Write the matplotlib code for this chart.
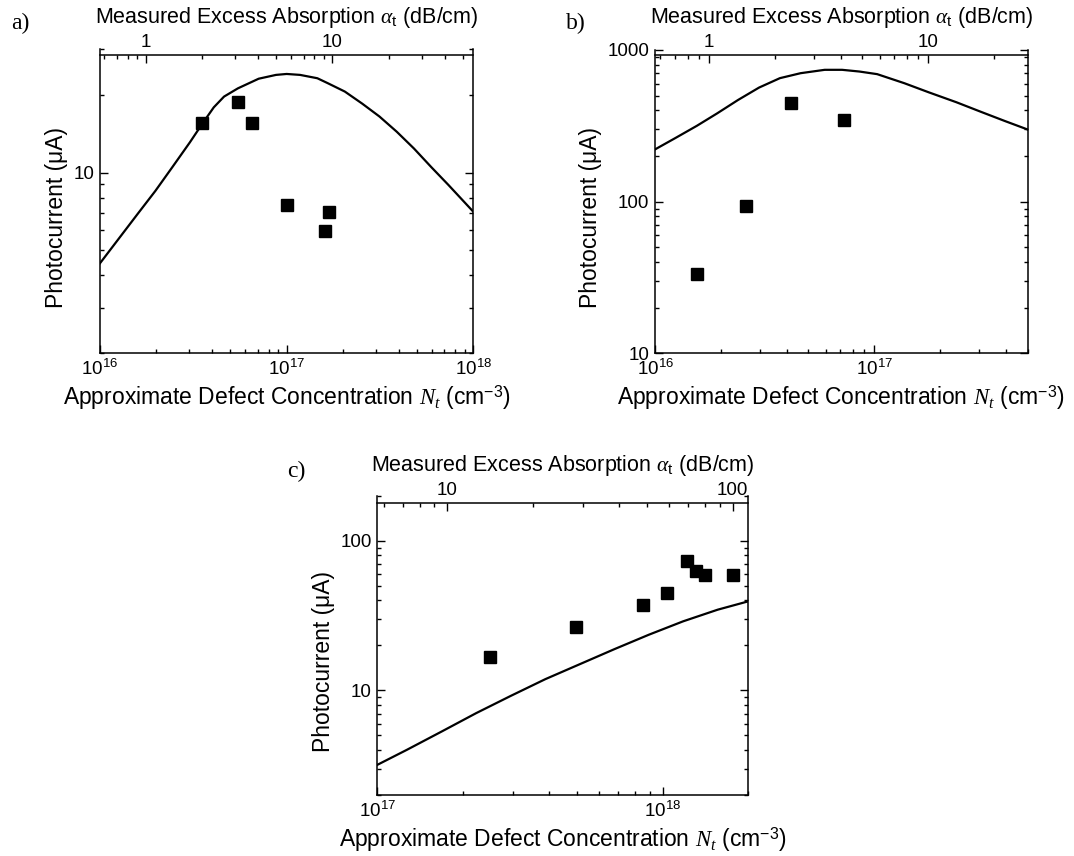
import matplotlib
matplotlib.use("Agg")
import matplotlib.pyplot as plt
from matplotlib.ticker import NullFormatter, FuncFormatter

plt.rcParams['font.family'] = ['Liberation Sans', 'DejaVu Sans']
plt.rcParams['mathtext.fontset'] = 'custom'
plt.rcParams['mathtext.rm'] = 'Liberation Sans'
plt.rcParams['mathtext.it'] = 'Liberation Serif:italic'
plt.rcParams['mathtext.bf'] = 'Liberation Sans:bold'
plt.rcParams['axes.linewidth'] = 1.1

# defect concentration (cm^-3) that corresponds to 1 dB/cm of excess absorption
N_PER_DB = 1.76e16

# (a) measured photocurrent and model
a_meas_N = [3.54e16, 5.48e16, 6.53e16, 1.01e17, 1.60e17, 1.69e17]
a_meas_I = [15.6, 18.7, 15.6, 7.50, 5.96, 7.06]
a_model_N = [1.0e16, 1.60e16, 1.98e16, 2.44e16, 3.03e16, 3.54e16, 4.07e16,
             4.62e16, 5.48e16, 7.08e16, 8.77e16, 1.0e17, 1.18e17, 1.46e17,
             1.66e17, 2.05e17, 2.54e17, 3.14e17, 3.89e17, 4.81e17, 5.96e17,
             7.36e17, 1.0e18]
a_model_I = [4.46, 6.96, 8.50, 10.5, 13.1, 15.5, 17.9,
             19.7, 21.2, 23.1, 23.9, 24.1, 23.9, 23.2,
             22.2, 20.6, 18.5, 16.5, 14.4, 12.4, 10.5,
             8.96, 7.06]

# (b)
b_meas_N = [1.56e16, 2.59e16, 4.16e16, 7.30e16]
b_meas_I = [33.4, 93.1, 450, 343]
b_model_N = [1.0e16, 1.24e16, 1.55e16, 1.92e16, 2.39e16, 2.98e16, 3.71e16,
             4.61e16, 5.94e16, 7.13e16, 8.55e16, 1.03e17, 1.37e17, 1.77e17,
             2.37e17, 3.05e17, 3.94e17, 5.0e17]
b_model_I = [221, 263, 316, 382, 468, 565, 652,
             703, 740, 740, 721, 693, 604, 526,
             452, 392, 340, 299]

# (c)
c_meas_N = [2.48e17, 4.99e17, 8.57e17, 1.04e18, 1.22e18, 1.31e18, 1.41e18, 1.77e18]
c_meas_I = [16.7, 26.4, 37.2, 44.6, 73.5, 63.3, 59.5, 59.5]
c_model_N = [1.0e17, 1.27e17, 1.68e17, 2.22e17, 2.94e17, 3.88e17, 5.13e17,
             6.78e17, 8.95e17, 1.18e18, 1.56e18, 2.0e18]
c_model_I = [3.18, 4.01, 5.31, 7.05, 9.21, 11.9, 15.0,
             18.9, 23.6, 29.0, 34.7, 39.5]

TICK_FS = 13.5
LABEL_FS = 16.5
TOP_FS = 15.5


def to_alpha(n):
    return n / N_PER_DB


def to_n(a):
    return a * N_PER_DB


def plain(v, pos):
    return f'{v:g}'


def panel(fig, rect, top_loc, N_meas, I_meas, N_model, I_model, xlim, ylim):
    ax = fig.add_axes(rect)
    ax.set_xscale('log')
    ax.set_yscale('log')
    ax.plot(N_model, I_model, color='black', lw=1.6, zorder=2)
    ax.plot(N_meas, I_meas, 's', color='black', ms=8.5, zorder=3)
    ax.set_xlim(xlim)
    ax.set_ylim(ylim)
    ax.spines['top'].set_visible(False)
    ax.tick_params(which='both', direction='in', right=True, top=False,
                   labelsize=TICK_FS, width=1.0)
    ax.tick_params(which='major', length=5.5, pad=4)
    ax.tick_params(which='minor', length=3)
    ax.yaxis.set_major_formatter(FuncFormatter(plain))
    ax.yaxis.set_minor_formatter(NullFormatter())
    ax.xaxis.set_minor_formatter(NullFormatter())
    ax.set_xlabel(r'Approximate Defect Concentration $N_t$ (cm$^{-3}$)',
                  fontsize=LABEL_FS, labelpad=3)
    ax.set_ylabel('Photocurrent (μA)', fontsize=LABEL_FS, labelpad=4)
    ax.yaxis.label.set_y(0.447)

    # absorption scale drawn just under the top of the frame
    sec = ax.secondary_xaxis(top_loc, functions=(to_alpha, to_n))
    sec.tick_params(which='both', direction='in', labelsize=TICK_FS, width=1.0)
    sec.tick_params(which='major', length=5.5, pad=3)
    sec.tick_params(which='minor', length=3)
    sec.xaxis.set_major_formatter(FuncFormatter(plain))
    sec.xaxis.set_minor_formatter(NullFormatter())
    sec.set_xlabel(r'Measured Excess Absorption $\alpha_\mathrm{t}$ (dB/cm)',
                   fontsize=TOP_FS, labelpad=8)
    return ax


fig = plt.figure(figsize=(10.74, 8.56), dpi=100)

panel(fig, [0.0931, 0.5873, 0.3476, 0.3550], 0.9816,
      a_meas_N, a_meas_I, a_model_N, a_model_I, (1e16, 1e18), (2, 30))
panel(fig, [0.6099, 0.5873, 0.3469, 0.3543], 0.9835,
      b_meas_N, b_meas_I, b_model_N, b_model_I, (1e16, 5e17), (10, 1000))
panel(fig, [0.3513, 0.0713, 0.3456, 0.3493], 0.9766,
      c_meas_N, c_meas_I, c_model_N, c_model_I, (1e17, 2e18), (2, 200))

for tag, x, y in [('a)', 0.0193, 0.9731), ('b)', 0.5363, 0.9731), ('c)', 0.2756, 0.4498)]:
    fig.text(x, y, tag, family='Liberation Serif', fontsize=17,
             ha='center', va='center')

fig.savefig('out.png', dpi=100)
